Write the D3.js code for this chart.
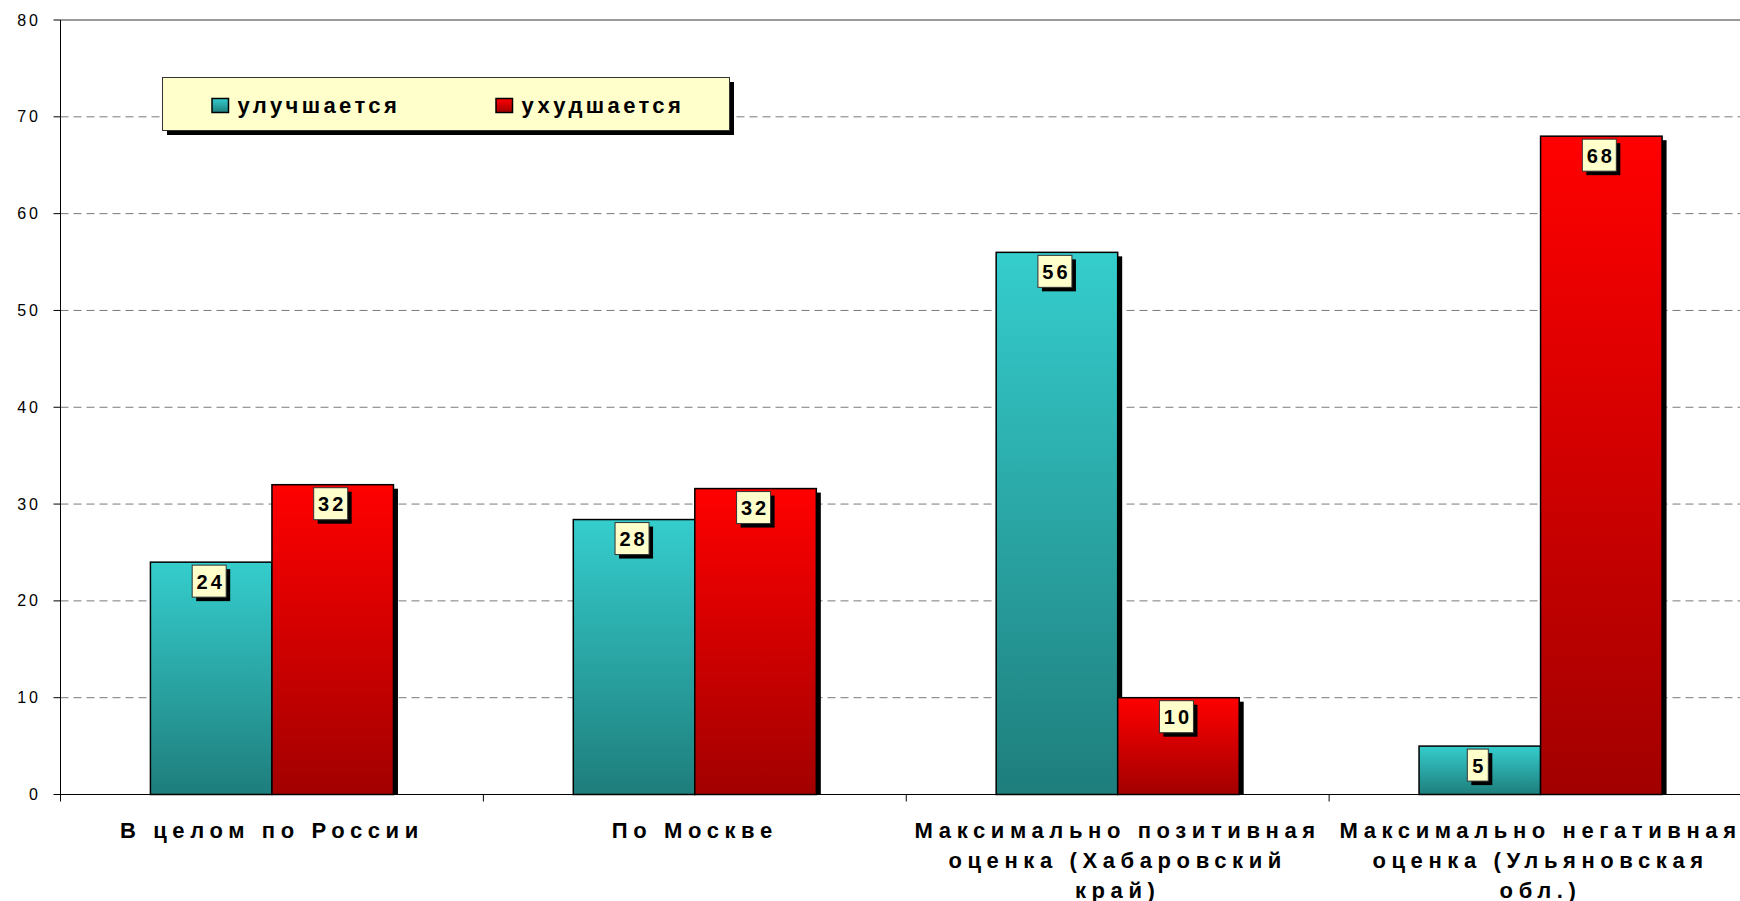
<!DOCTYPE html>
<html><head><meta charset="utf-8">
<script src="https://cdn.jsdelivr.net/npm/d3@7"></script>
<style>html,body{margin:0;padding:0;background:#fff;overflow:hidden}</style>
</head><body>
<svg id="c" width="1740" height="901"></svg>
<script>
const categories = ["cat1","cat2","cat3","cat4"];
const categoryLabels = [
  ["В целом по России"],
  ["По Москве"],
  ["Максимально позитивная","оценка (Хабаровский","край)"],
  ["Максимально негативная","оценка (Ульяновская","обл.)"]
];
const seriesNames = ["улучшается","ухудшается"];
const improving = [24, 28.4, 56, 5];
const worsening = [32, 31.6, 10, 68];
const valueLabels = [["24","28","56","5"],["32","32","10","68"]];
const yTicks = [0,10,20,30,40,50,60,70,80];

(function(){
const svg = d3.select("#c");
const FONT = "'Liberation Sans', Arial, sans-serif";
const pL = 60.5, pR = 1752, pT = 20, pB = 794.5;

const x = d3.scaleBand().domain(categories).range([pL, pR]).padding(0);
const xs = d3.scaleBand().domain(seriesNames).range([0, x.bandwidth()]).paddingInner(0).paddingOuter(0.74);
const y = d3.scaleLinear().domain([0, 80]).range([pB, pT]);

const defs = svg.append("defs");
function grad(id, c1, c2){
  const g = defs.append("linearGradient").attr("id", id).attr("x1",0).attr("y1",0).attr("x2",0).attr("y2",1);
  g.append("stop").attr("offset","0%").attr("stop-color",c1);
  g.append("stop").attr("offset","100%").attr("stop-color",c2);
}
grad("gT","#35CDCD","#1E7E7C");
grad("gR","#FF0000","#A20000");
const fills = ["url(#gT)","url(#gR)"];

function txt(g, str, tx, ty, opts){
  return g.append("text")
    .attr("x", tx).attr("y", ty)
    .attr("font-family", FONT)
    .attr("font-size", opts.size)
    .attr("font-weight", opts.weight || "normal")
    .attr("letter-spacing", opts.ls || 0)
    .attr("text-anchor", opts.anchor || "start")
    .attr("fill", "#000")
    .text(str);
}

// gridlines
const grid = svg.append("g");
grid.selectAll("line.g").data(yTicks.filter(t => t > 0 && t < 80)).join("line")
  .attr("x1", pL).attr("x2", 1740).attr("y1", d => y(d)).attr("y2", d => y(d))
  .attr("stroke", "#7a7a7a").attr("stroke-width", 1).attr("stroke-dasharray", "8,5");
grid.append("line").attr("x1", pL).attr("x2", 1740).attr("y1", y(80)).attr("y2", y(80))
  .attr("stroke", "#9a9a9a").attr("stroke-width", 1.8);

// y axis
const ya = svg.append("g");
ya.append("line").attr("x1", pL).attr("x2", pL).attr("y1", y(80)).attr("y2", pB + 7).attr("stroke","#000");
ya.selectAll("line.t").data(yTicks).join("line").attr("class","t")
  .attr("x1", pL - 7).attr("x2", pL).attr("y1", d => y(d)).attr("y2", d => y(d)).attr("stroke","#000");
yTicks.forEach(t => txt(ya, String(t), 41, y(t) + 5.5, {size: 16, anchor: "end", ls: 3}));

// bars
const data = categories.map((c, i) => ({c, i, vals: [improving[i], worsening[i]]}));
const barsG = svg.append("g");
data.forEach(d => {
  d.vals.forEach((v, s) => {
    const bx = x(d.c) + xs(seriesNames[s]);
    const bw = xs.bandwidth();
    const by = y(v);
    barsG.append("rect").attr("x", bx + 4.5).attr("y", by + 4).attr("width", bw).attr("height", pB - by - 4).attr("fill","#000");
    barsG.append("rect").attr("x", bx).attr("y", by).attr("width", bw).attr("height", pB - by)
      .attr("fill", fills[s]).attr("stroke","#000").attr("stroke-width",1.5);
  });
});

// value labels
const lab = svg.append("g");
data.forEach(d => {
  d.vals.forEach((v, s) => {
    const t = valueLabels[s][d.i];
    const cx = x(d.c) + xs(seriesNames[s]) + xs.bandwidth()/2 - 2;
    const w = 13 * t.length + 8, h = 32;
    const by = y(v) + 3;
    lab.append("rect").attr("x", cx - w/2 + 4).attr("y", by + 4).attr("width", w).attr("height", h).attr("fill","#000");
    lab.append("rect").attr("x", cx - w/2).attr("y", by).attr("width", w).attr("height", h)
      .attr("fill","#FFFFCC").attr("stroke","#333").attr("stroke-width",1);
    txt(lab, t, cx + 1.5, by + 23.5, {size: 20, weight: "bold", ls: 3, anchor: "middle"});
  });
});

// x axis
const xa = svg.append("g");
xa.append("line").attr("x1", pL).attr("x2", 1740).attr("y1", pB).attr("y2", pB).attr("stroke","#000").attr("stroke-width",1.2);
xa.selectAll("line.t").data(categories.slice(1)).join("line").attr("class","t")
  .attr("x1", d => x(d)).attr("x2", d => x(d)).attr("y1", pB).attr("y2", pB + 7).attr("stroke","#000");
categoryLabels.forEach((lines, i) => {
  const cx = x(categories[i]) + x.bandwidth()/2;
  lines.forEach((ln, k) => txt(xa, ln, cx, 838 + k * 30, {size: 22, weight: "bold", ls: 5.6, anchor: "middle"}));
});

// legend
const lg = svg.append("g");
lg.append("rect").attr("x", 167).attr("y", 82).attr("width", 567).attr("height", 53).attr("fill","#000");
lg.append("rect").attr("x", 162.5).attr("y", 77.5).attr("width", 567).attr("height", 53)
  .attr("fill","#FFFFCC").attr("stroke","#333").attr("stroke-width",1);
const legX = [212, 496];
seriesNames.forEach((s, i) => {
  lg.append("rect").attr("x", legX[i]).attr("y", 98.5).attr("width", 16.5).attr("height", 14)
    .attr("fill", fills[i]).attr("stroke","#000").attr("stroke-width",1.5);
  txt(lg, s, legX[i] + 25.5, 112.5, {size: 22, weight: "bold", ls: 3.4});
});
})();
</script>
</body></html>
